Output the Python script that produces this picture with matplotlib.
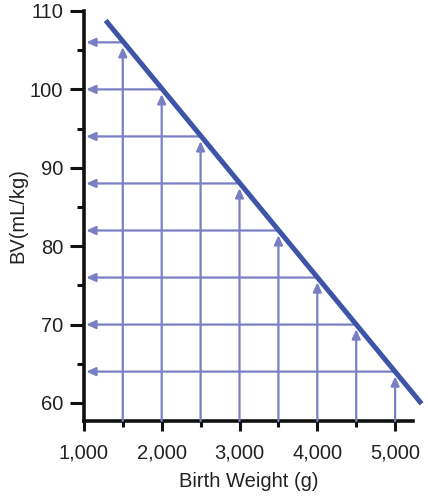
#blood volume vs birth weight chart

import matplotlib.pyplot as plt
from matplotlib.ticker import MultipleLocator, FuncFormatter

plt.rcParams['font.family'] = ['Liberation Sans', 'DejaVu Sans']

weights = [1500, 2000, 2500, 3000, 3500, 4000, 4500, 5000]
bv = [106, 100, 94, 88, 82, 76, 70, 64]
line_x = [1280, 5340]
line_y = [108.8, 59.9]

grid_color = '#7a7fc4'
line_color = '#3d54a8'

fig = plt.figure(figsize=(4.28, 5.0), dpi=100)
ax = fig.add_axes([0.196, 0.158, 0.769, 0.82])
ax.set_xlim(1000, 5230)
ax.set_ylim(57.7, 110)

for x, y in zip(weights, bv):
    # horizontal arrow from the line back to the y axis
    ax.annotate('', xy=(1030, y), xytext=(x, y),
                arrowprops=dict(arrowstyle='-|>,head_length=0.55,head_width=0.25',
                                color=grid_color, lw=1.6, shrinkA=0, shrinkB=0))
    # vertical arrow from the x axis up to the line
    ax.annotate('', xy=(x, y - 0.6), xytext=(x, 57.7),
                arrowprops=dict(arrowstyle='-|>,head_length=0.55,head_width=0.25',
                                color=grid_color, lw=1.6, shrinkA=0, shrinkB=0))

ax.plot(line_x, line_y, color=line_color, lw=3.6, clip_on=False, solid_capstyle='butt', zorder=5)

for s in ['top', 'right']:
    ax.spines[s].set_visible(False)
for s in ['left', 'bottom']:
    ax.spines[s].set_linewidth(2.6)
    ax.spines[s].set_color('#111111')
ax.spines['left'].set_bounds(57.7, 110)

ax.xaxis.set_major_locator(MultipleLocator(1000))
ax.xaxis.set_minor_locator(MultipleLocator(500))
ax.yaxis.set_minor_locator(MultipleLocator(5))
ax.set_yticks([60, 70, 80, 90, 100, 110])
ax.xaxis.set_major_formatter(FuncFormatter(lambda v, p: f'{int(v):,}'))
ax.tick_params(which='major', length=7, width=2.2, labelsize=14.5, color='#111111', labelcolor='#222222')
ax.tick_params(which='minor', length=4, width=2.2, color='#111111')
ax.tick_params(axis='x', which='major', pad=9)
ax.tick_params(axis='y', which='major', length=10, pad=5)
ax.tick_params(axis='y', which='minor', length=5)

ax.set_xlabel('Birth Weight (g)', fontsize=14.5, color='#222222', labelpad=7)
ax.set_ylabel('BV(mL/kg)', fontsize=14.5, color='#222222', labelpad=2)

plt.savefig('out.png', dpi=100)
